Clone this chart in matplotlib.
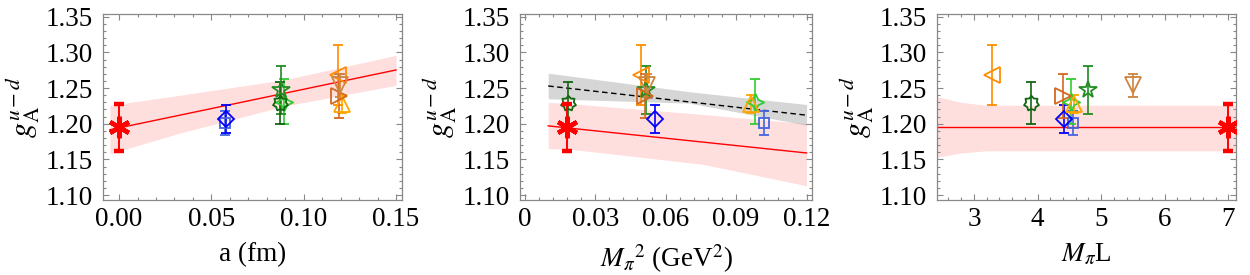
import numpy as np
import matplotlib
matplotlib.use("Agg")
import matplotlib.pyplot as plt
from matplotlib.path import Path
from matplotlib.ticker import MultipleLocator

plt.rcParams['font.family'] = ['Liberation Serif', 'DejaVu Serif']
plt.rcParams['mathtext.fontset'] = 'stix'
plt.rcParams['font.size'] = 19.5

# ensembles: lattice spacing, pion mass squared, M_pi L, g_A and its error
names   = ['a06m310', 'a06m220', 'a09m310', 'a09m220', 'a09m130',
           'a12m310', 'a12m220S', 'a12m220', 'a12m220L']
a_fm    = [0.0575, 0.0580, 0.0895, 0.0875, 0.0872, 0.1205, 0.1188, 0.1192, 0.1197]
mpi2    = [0.1020, 0.0553, 0.0980, 0.0515, 0.0185, 0.0965, 0.0495, 0.0512, 0.0520]
mpiL    = [4.55, 4.41, 4.52, 4.79, 3.90, 4.58, 3.28, 4.40, 5.50]
gA      = [1.201, 1.207, 1.231, 1.247, 1.229, 1.228, 1.269, 1.239, 1.254]
gA_err  = [0.017, 0.020, 0.032, 0.034, 0.029, 0.013, 0.042, 0.031, 0.016]

colors  = ['#4466dd', '#0000ff', '#33cc33', '#228b22', '#116611',
           '#ffa500', '#ff8c00', '#d2691e', '#cd853f']
star7 = Path.unit_regular_star(7, 0.72)
star4 = Path.unit_regular_star(4, 0.45)
markers = ['s', 'D', star4, '*', star7, '^', '<', '>', 'v']
msizes  = [7.5, 8, 12.5, 13, 11, 11, 11, 11, 11]

# physical point result
phys_a, phys_mpi2, phys_mpiL = 0.0, 0.0182, 7.0
phys_gA, phys_err = 1.195, 0.033

# fit curves and error bands
fitA_x   = [-0.005, 0.15]
fitA_y   = [1.1915, 1.2755]
bandA_x  = [-0.005, 0.033, 0.09, 0.15]
bandA_hi = [1.226, 1.240, 1.262, 1.296]
bandA_lo = [1.158, 1.187, 1.225, 1.254]

fitM_x   = [0.01, 0.12]
fitM_y   = [1.197, 1.159]
bandM_x  = [0.01, 0.02, 0.076, 0.12]
bandM_hi = [1.230, 1.228, 1.213, 1.200]
bandM_lo = [1.165, 1.164, 1.143, 1.113]
fitG_y   = [1.253, 1.212]
bandG_x  = [0.01, 0.07, 0.12]
bandG_hi = [1.271, 1.245, 1.227]
bandG_lo = [1.235, 1.229, 1.198]

fitL_x   = [2.42, 7.12]
fitL_y   = [1.195, 1.195]
bandL_x  = [2.42, 2.8, 3.2, 7.12]
bandL_hi = [1.238, 1.230, 1.226, 1.226]
bandL_lo = [1.153, 1.159, 1.162, 1.162]

fig = plt.figure(figsize=(12.5, 2.75), dpi=100)
pos = [[0.0824, 0.2727, 0.2392, 0.6764],
       [0.4160, 0.2727, 0.2336, 0.6764],
       [0.7496, 0.2727, 0.2392, 0.6764]]
axes = [fig.add_axes(p) for p in pos]
frame = '#888888'


def style(ax, xlim, xmaj, xmin, xlabels):
    ax.set_xlim(*xlim)
    ax.set_ylim(1.093, 1.354)
    ax.set_xticks(xmaj, xlabels)
    ax.xaxis.set_minor_locator(MultipleLocator(xmin))
    ax.set_yticks([1.10, 1.15, 1.20, 1.25, 1.30, 1.35],
                  ['1.10', '1.15', '1.20', '1.25', '1.30', '1.35'])
    ax.yaxis.set_minor_locator(MultipleLocator(0.01))
    ax.tick_params(which='both', direction='in', top=True, right=True,
                   color=frame, width=0.8)
    ax.tick_params(which='major', length=4.5)
    ax.tick_params(axis='x', which='major', pad=5)
    ax.tick_params(axis='y', which='major', pad=7)
    ax.tick_params(which='minor', length=2.5)
    for s in ax.spines.values():
        s.set_color(frame)
        s.set_linewidth(0.9)
    # y label placed by its centre
    w = ax.get_position().width * 1250
    ax.text(-81 / w, 0.5, r'$g_{\mathrm{A}}^{u-d}$', fontsize=22,
            rotation=90, ha='center', va='center', transform=ax.transAxes)


def points(ax, xs):
    for i in range(len(gA)):
        ax.errorbar(xs[i], gA[i], yerr=gA_err[i], color=colors[i],
                    marker=markers[i], ms=msizes[i], mfc='none', mew=1.3,
                    elinewidth=1.2, capsize=3.5, capthick=1.2, zorder=5)


def phys(ax, x):
    ax.errorbar(x, phys_gA, yerr=phys_err, color='red', marker=(6, 2, 0),
                ms=15.5, mew=3.2, elinewidth=1.4, capsize=3.5, capthick=1.4,
                zorder=6)


# panel 1: lattice spacing
ax = axes[0]
ax.fill_between(bandA_x, bandA_lo, bandA_hi, color='red', alpha=0.13, lw=0)
ax.plot(fitA_x, fitA_y, color='red', lw=1)
points(ax, a_fm)
phys(ax, phys_a)
style(ax, (-0.0087, 0.1532), [0, 0.05, 0.10, 0.15], 0.01,
      ['0.00', '0.05', '0.10', '0.15'])
ax.set_xlabel('a (fm)')
ax.xaxis.set_label_coords(0.5, -0.225)

# panel 2: pion mass squared
ax = axes[1]
ax.fill_between(bandM_x, bandM_lo, bandM_hi, color='red', alpha=0.13, lw=0)
ax.fill_between(bandG_x, bandG_lo, bandG_hi, color='black', alpha=0.16, lw=0)
ax.plot(fitM_x, fitM_y, color='red', lw=1)
ax.plot(fitM_x, fitG_y, color='black', lw=1, ls=(0, (4, 2.5)))
points(ax, mpi2)
phys(ax, phys_mpi2)
style(ax, (-0.002, 0.1223), [0, 0.03, 0.06, 0.09, 0.12], 0.006,
      ['0', '0.03', '0.06', '0.09', '0.12'])
ax.set_xlabel(r'$M_{\pi}{}^{2}$ (GeV$^{2}$)')
ax.xaxis.set_label_coords(0.5, -0.225)

# panel 3: M_pi L
ax = axes[2]
ax.fill_between(bandL_x, bandL_lo, bandL_hi, color='red', alpha=0.13, lw=0)
ax.plot(fitL_x, fitL_y, color='red', lw=1)
points(ax, mpiL)
phys(ax, phys_mpiL)
style(ax, (2.42, 7.12), [3, 4, 5, 6, 7], 0.2, ['3', '4', '5', '6', '7'])
ax.set_xlabel(r'$M_{\pi}$L')
ax.xaxis.set_label_coords(0.5, -0.225)

fig.savefig('out.png', dpi=100)
